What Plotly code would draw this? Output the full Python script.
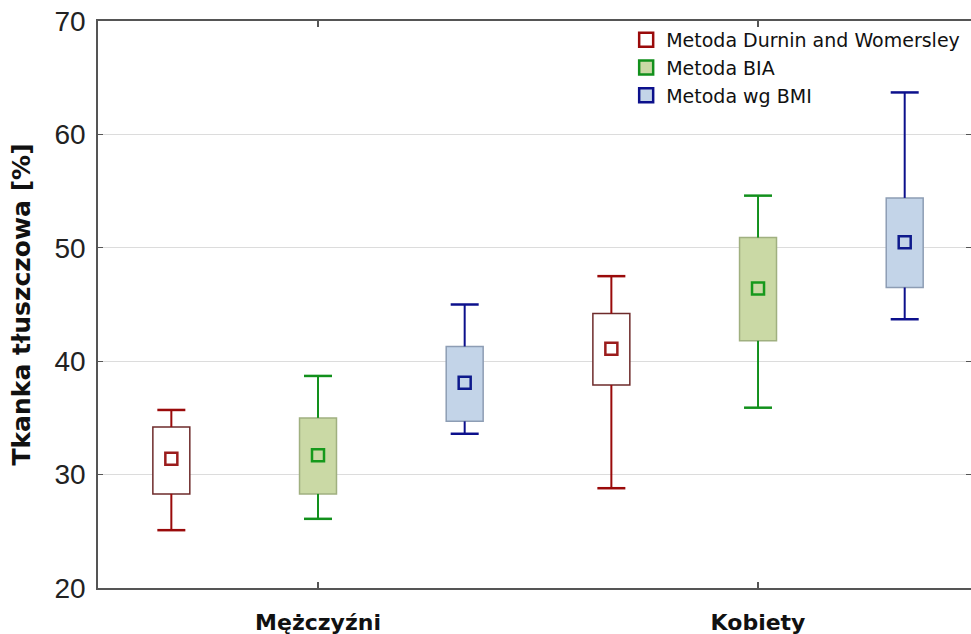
import plotly.graph_objects as go

groups = ["Mężczyźni", "Kobiety"]
methods = ["Metoda Durnin and Womersley", "Metoda BIA", "Metoda wg BMI"]

# Durnin and Womersley
dw_median = [31.4, 41.1]
dw_q1 = [28.3, 37.9]
dw_q3 = [34.2, 44.2]
dw_min = [25.1, 28.8]
dw_max = [35.7, 47.5]

# BIA
bia_median = [31.7, 46.4]
bia_q1 = [28.3, 41.8]
bia_q3 = [35.0, 50.9]
bia_min = [26.1, 35.9]
bia_max = [38.7, 54.6]

# wg BMI
bmi_median = [38.1, 50.5]
bmi_q1 = [34.7, 46.5]
bmi_q3 = [41.3, 54.4]
bmi_min = [33.6, 43.7]
bmi_max = [45.0, 63.7]

series = [
    dict(name=methods[0], med=dw_median, q1=dw_q1, q3=dw_q3, lo=dw_min, hi=dw_max,
         fill="#ffffff", outline="#6e2b2b", whisker="#9a0a0a", mark="#9b1c1c", offset=-1/3),
    dict(name=methods[1], med=bia_median, q1=bia_q1, q3=bia_q3, lo=bia_min, hi=bia_max,
         fill="#cad9a5", outline="#a0b080", whisker="#12901c", mark="#16991c", offset=0.0),
    dict(name=methods[2], med=bmi_median, q1=bmi_q1, q3=bmi_q3, lo=bmi_min, hi=bmi_max,
         fill="#c3d4e8", outline="#8d9db4", whisker="#0c108c", mark="#0e1a8c", offset=1/3),
]

fig = go.Figure()
box_w = 0.084

for s in series:
    xs = [g + s["offset"] for g in range(len(groups))]
    # box
    fig.add_trace(go.Bar(
        x=xs, y=[b - a for a, b in zip(s["q1"], s["q3"])], base=s["q1"], width=box_w,
        marker=dict(color=s["fill"], line=dict(color=s["outline"], width=1.5)),
        showlegend=False, hoverinfo="skip"))

for s in series:
    xs = [g + s["offset"] for g in range(len(groups))]
    lx, ly = [], []
    for x, a, b, lo, hi in zip(xs, s["q1"], s["q3"], s["lo"], s["hi"]):
        lx += [x, x, None, x, x, None]
        ly += [b, hi, None, a, lo, None]
    fig.add_trace(go.Scatter(x=lx, y=ly, mode="lines",
                             line=dict(color=s["whisker"], width=2),
                             showlegend=False, hoverinfo="skip"))
    fig.add_trace(go.Scatter(x=xs + xs, y=s["hi"] + s["lo"], mode="markers",
                             marker=dict(symbol="line-ew-open", size=20, color=s["whisker"],
                                         line=dict(color=s["whisker"], width=2.5)),
                             showlegend=False, hoverinfo="skip"))
    fig.add_trace(go.Scatter(x=xs, y=s["med"], mode="markers",
                             marker=dict(symbol="square-open", size=12, color=s["mark"],
                                         line=dict(color=s["mark"], width=2.5)),
                             showlegend=False))
    # legend entry
    fig.add_trace(go.Scatter(x=[None], y=[None], mode="markers", name=s["name"],
                             marker=dict(symbol="square", size=14, color=s["fill"],
                                         line=dict(color=s["whisker"], width=2.5))))

fig.update_layout(
    width=971, height=634,
    margin=dict(l=98, r=0, t=21, b=46),
    paper_bgcolor="white", plot_bgcolor="white",
    barmode="overlay",
    font=dict(family="Liberation Sans, Arial, sans-serif", color="#111"),
    legend=dict(x=0.605, y=1.0, xanchor="left", yanchor="top",
                bgcolor="rgba(255,255,255,0)",
                font=dict(family="DejaVu Sans", size=19, color="#111")),
    xaxis=dict(range=[-0.5, 1.484], tickvals=[0, 1], ticktext=groups,
               ticks="inside", ticklen=6, tickcolor="#555", tickwidth=1.5,
               showline=True, linecolor="#555", linewidth=1.5, mirror="ticks",
               showgrid=False, zeroline=False, ticklabelstandoff=14, automargin=False,
               tickfont=dict(family="DejaVu Sans", size=22, color="#111", weight="bold")),
    yaxis=dict(range=[20, 70], dtick=10, tick0=20,
               ticks="inside", ticklen=5, tickcolor="#555", tickwidth=1,
               showline=True, linecolor="#555", linewidth=1.5, mirror="ticks",
               showgrid=True, gridcolor="#dcdcdc", gridwidth=1, zeroline=False,
               ticklabelstandoff=5, automargin=False,
               tickfont=dict(family="Liberation Sans", size=28, color="#222"),
               title=dict(text="Tkanka tłuszczowa [%]", standoff=17,
                          font=dict(family="DejaVu Sans", size=25, color="#111", weight="bold"))),
)

fig.write_html("out.html", config={"displayModeBar": False},
               post_script="document.body.style.margin='0';")
